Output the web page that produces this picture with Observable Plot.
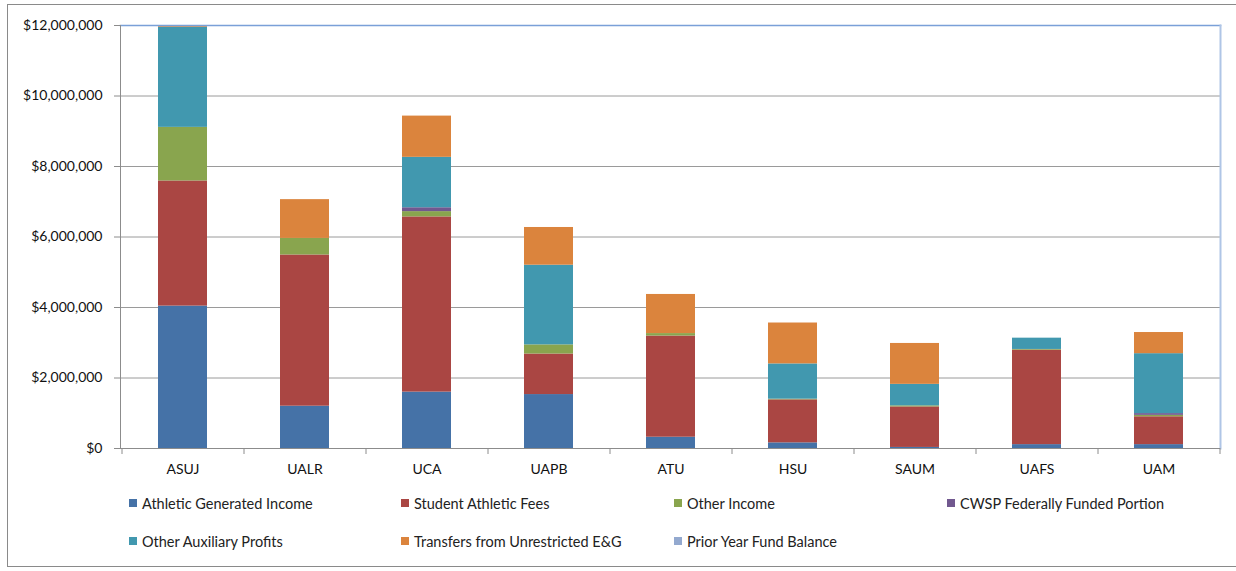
<!DOCTYPE html>
<html>
<head>
<meta charset="utf-8">
<script src="https://cdn.jsdelivr.net/npm/d3@7"></script>
<script src="https://cdn.jsdelivr.net/npm/@observablehq/plot@0.6"></script>
<style>
  html, body { margin: 0; padding: 0; background: #fff; overflow: hidden; }
  #wrap { position: relative; width: 1236px; height: 571px; overflow: hidden; font-family: Lato, "Open Sans", sans-serif; }
  #border { position: absolute; left: 7px; top: 4px; width: 1240px; height: 563px; border: 1px solid #8a8a8a; box-sizing: border-box; }
  #chart { position: absolute; left: 0; top: 0; }
  .lg { position: absolute; display: flex; align-items: center; font-size: 14.5px; color: #222; white-space: nowrap; }
  .lg span.sw { display: inline-block; width: 8px; height: 8px; margin-right: 5px; }
</style>
</head>
<body>
<div id="wrap">
  <div id="border"></div>
  <div id="chart"></div>
  <div id="legend"></div>
</div>
<script>
const schools = ["ASUJ","UALR","UCA","UAPB","ATU","HSU","SAUM","UAFS","UAM"];
const seriesNames = [
  "Athletic Generated Income",
  "Student Athletic Fees",
  "Other Income",
  "CWSP Federally Funded Portion",
  "Other Auxiliary Profits",
  "Transfers from Unrestricted E&G",
  "Prior Year Fund Balance"
];
const seriesColors = ["#4572A7","#AA4643","#89A54E","#71588F","#4198AF","#DB843D","#93A9CF"];

const athleticGenerated = [4040000, 1200000, 1600000, 1530000, 320000, 160000, 30000, 110000, 110000];
const studentFees       = [3550000, 4290000, 4970000, 1150000, 2870000, 1220000, 1150000, 2680000, 790000];
const otherIncome       = [1520000, 470000, 150000, 260000, 70000, 20000, 30000, 20000, 40000];
const cwsp              = [0, 0, 110000, 0, 0, 0, 0, 0, 50000];
const otherAux          = [2840000, 0, 1430000, 2260000, 0, 1000000, 610000, 320000, 1700000];
const transfers         = [50000, 1100000, 1170000, 1070000, 1110000, 1160000, 1160000, 0, 600000];
const priorYear         = [0, 0, 0, 0, 0, 0, 0, 0, 0];

const yTicks = [0, 2000000, 4000000, 6000000, 8000000, 10000000, 12000000];

const seriesValues = [athleticGenerated, studentFees, otherIncome, cwsp, otherAux, transfers, priorYear];
const data = [];
schools.forEach((s, i) => {
  seriesNames.forEach((n, j) => {
    data.push({school: s, series: n, value: seriesValues[j][i]});
  });
});

const fmt = d3.format("$,.0f");
const axisColor = "#8c8c8c";

const chart = Plot.plot({
  width: 1236,
  height: 490,
  marginLeft: 120,
  marginRight: 16,
  marginTop: 25,
  marginBottom: 42,
  style: { fontFamily: "Lato, 'Open Sans', sans-serif", fontSize: "14px", color: "#111", background: "transparent" },
  x: { domain: schools, paddingInner: 0.6, paddingOuter: 0.3, label: null },
  y: { domain: [0, 12000000], label: null },
  color: { domain: seriesNames, range: seriesColors },
  marks: [
    Plot.gridY(yTicks, { stroke: "#9a9a9a", strokeOpacity: 1, strokeWidth: 1 }),
    Plot.barY(data, { x: "school", y: "value", fill: "series", order: seriesNames, inset: 0 }),
    Plot.frame({ anchor: "top", stroke: "#7aa0d8", strokeOpacity: 1, strokeWidth: 1.5 }),
    Plot.frame({ anchor: "right", stroke: "#afc5e6", strokeOpacity: 1, strokeWidth: 2 }),
    Plot.frame({ anchor: "left", stroke: axisColor, strokeOpacity: 1 }),
    Plot.ruleY([0], { stroke: axisColor }),
    Plot.axisY({ ticks: yTicks, tickFormat: fmt, tickSize: 6, tickPadding: 12, stroke: axisColor, label: null, fontSize: 14 }),
    Plot.axisX({ tickSize: 0, tickPadding: 16, label: null, fontSize: 14 }),
    Plot.axisX({ tickSize: 6, tickFormat: () => "", dx: -61, stroke: axisColor, label: null }),
    Plot.axisX({ ticks: ["UAM"], tickSize: 6, tickFormat: () => "", dx: 61, stroke: axisColor, label: null })
  ]
});
document.getElementById("chart").appendChild(chart);

// legend
const legendPos = [
  [129, 503], [401, 503], [674, 503], [947, 503],
  [129, 541], [401, 541], [674, 541]
];
const lg = document.getElementById("legend");
seriesNames.forEach((name, k) => {
  const d = document.createElement("div");
  d.className = "lg";
  d.style.left = legendPos[k][0] + "px";
  d.style.top = (legendPos[k][1] - 9) + "px";
  d.style.height = "18px";
  const sw = document.createElement("span");
  sw.className = "sw";
  sw.style.background = seriesColors[k];
  d.appendChild(sw);
  d.appendChild(document.createTextNode(name));
  lg.appendChild(d);
});
</script>
</body>
</html>
